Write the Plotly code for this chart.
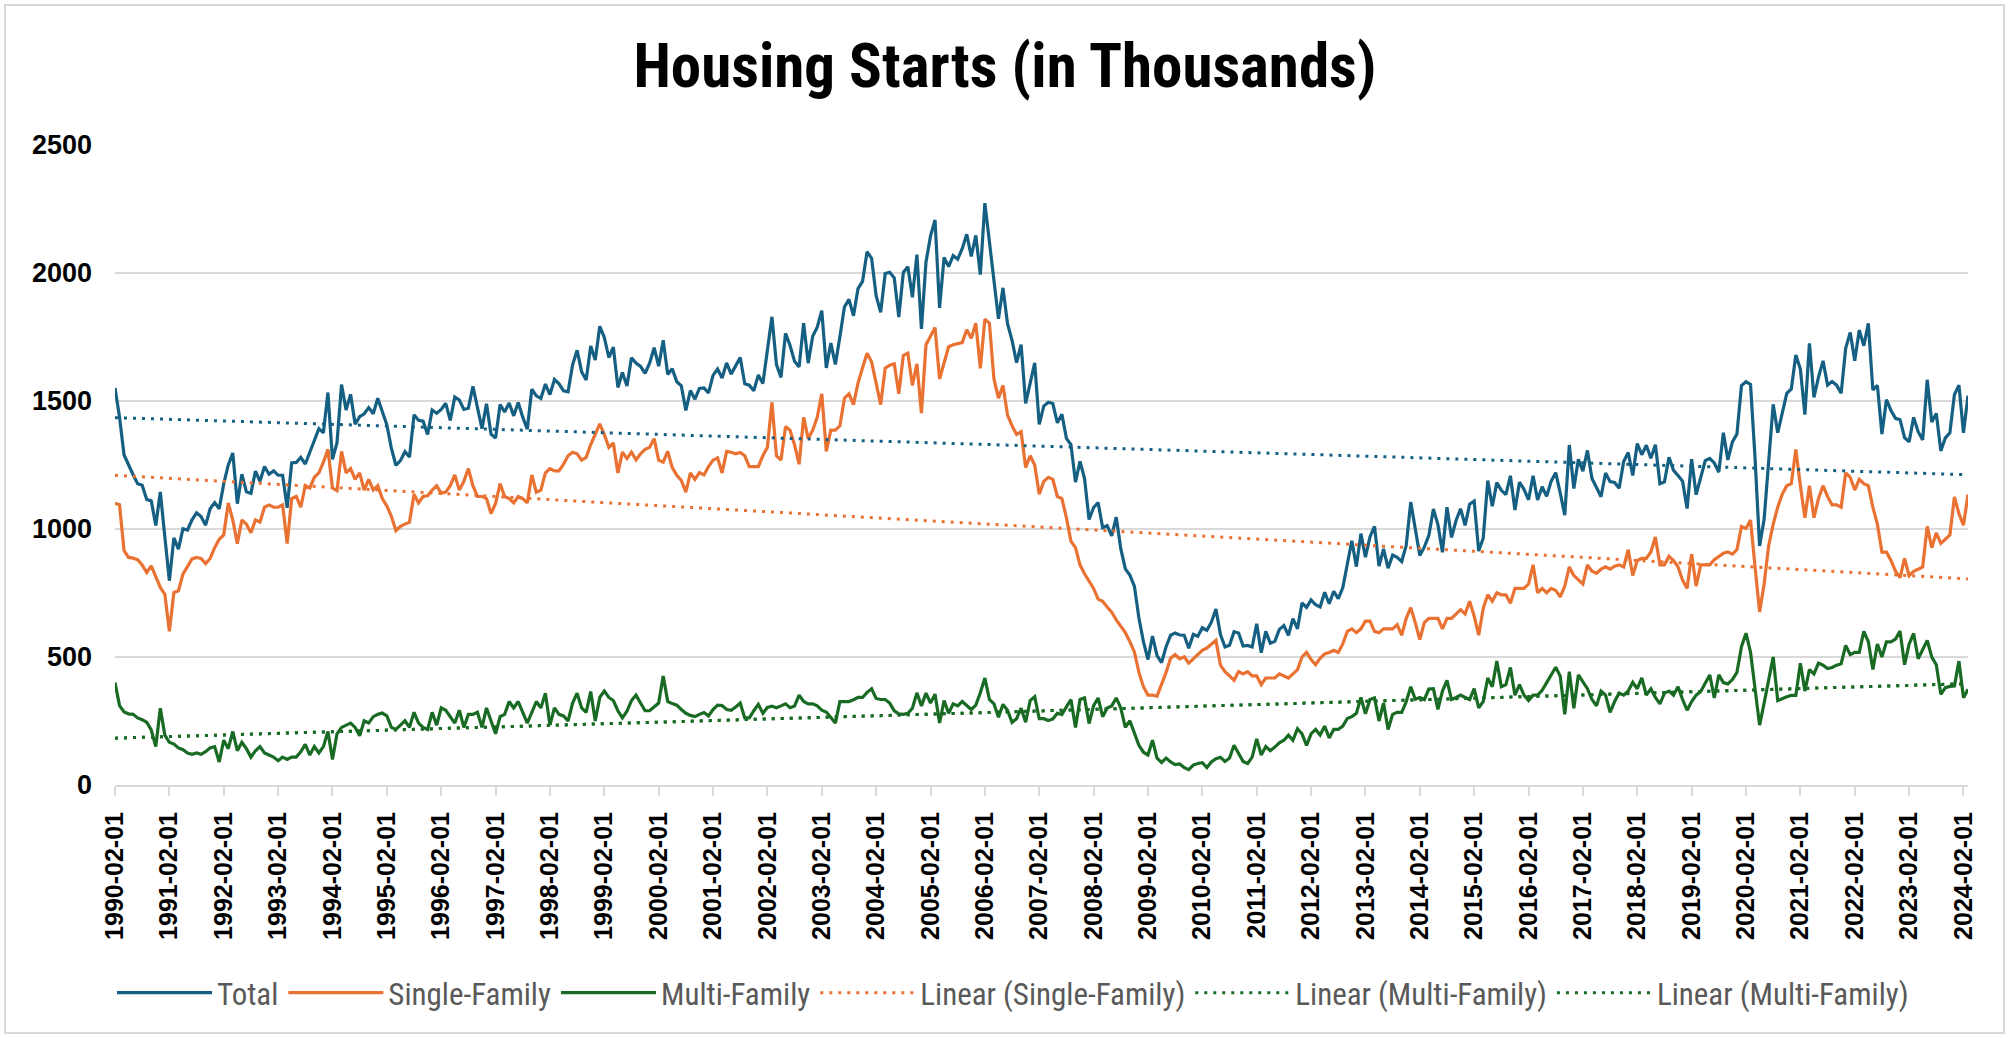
import plotly.graph_objects as go

# Monthly housing starts (thousands, SAAR), first point at the 1990-02-01 tick
total = [
    1551, 1437, 1289, 1248, 1212, 1177, 1171, 1115, 1110, 1014, 1145, 969,
    798, 965, 921, 1001, 996, 1036, 1063, 1049, 1015, 1079, 1103, 1079,
    1176, 1250, 1297, 1099, 1214, 1145, 1139, 1226, 1186, 1244, 1214, 1227,
    1210, 1210, 1083, 1258, 1260, 1280, 1254, 1300, 1343, 1392, 1376, 1533,
    1272, 1337, 1564, 1465, 1526, 1409, 1439, 1450, 1474, 1450, 1511, 1455,
    1407, 1316, 1249, 1267, 1302, 1281, 1446, 1425, 1421, 1369, 1465, 1452,
    1467, 1491, 1424, 1516, 1504, 1467, 1472, 1557, 1475, 1392, 1489, 1370,
    1355, 1486, 1457, 1492, 1442, 1494, 1437, 1390, 1546, 1520, 1510, 1566,
    1525, 1584, 1567, 1540, 1536, 1641, 1698, 1614, 1582, 1715, 1660, 1792,
    1748, 1670, 1710, 1553, 1611, 1559, 1669, 1648, 1635, 1608, 1648, 1708,
    1636, 1737, 1604, 1626, 1575, 1559, 1463, 1541, 1507, 1549, 1551, 1532,
    1600, 1625, 1590, 1649, 1605, 1636, 1670, 1567, 1562, 1540, 1602, 1568,
    1698, 1829, 1642, 1592, 1764, 1717, 1655, 1633, 1804, 1648, 1753, 1788,
    1853, 1629, 1726, 1643, 1751, 1867, 1897, 1833, 1939, 1967, 2083, 2057,
    1911, 1846, 1998, 2003, 1981, 1828, 2002, 2024, 1905, 2072, 1782, 2042,
    2144, 2207, 1864, 2061, 2025, 2068, 2054, 2095, 2151, 2065, 2147, 1994,
    2273, 2119, 1969, 1821, 1942, 1802, 1737, 1650, 1720, 1491, 1570, 1649,
    1409, 1480, 1495, 1490, 1415, 1448, 1354, 1330, 1183, 1264, 1197, 1037,
    1084, 1103, 1005, 1013, 973, 1046, 923, 844, 820, 777, 652, 560,
    490, 582, 505, 478, 540, 585, 594, 586, 585, 534, 588, 581,
    614, 604, 636, 687, 588, 539, 546, 599, 594, 543, 545, 539,
    630, 517, 600, 554, 561, 608, 623, 585, 650, 610, 711, 694,
    723, 704, 695, 753, 708, 757, 728, 770, 863, 954, 853, 982,
    890, 969, 1010, 855, 922, 847, 898, 889, 873, 936, 1105, 1003,
    897, 929, 975, 1078, 1017, 909, 1085, 967, 1033, 1079, 1014, 1097,
    1109, 914, 964, 1189, 1089, 1181, 1151, 1134, 1208, 1074, 1183, 1155,
    1114, 1208, 1113, 1165, 1128, 1187, 1220, 1140, 1054, 1328, 1158, 1272,
    1226, 1307, 1197, 1162, 1126, 1219, 1185, 1182, 1159, 1264, 1299, 1209,
    1334, 1290, 1327, 1276, 1329, 1177, 1184, 1280, 1229, 1209, 1187, 1080,
    1273, 1134, 1203, 1267, 1276, 1258, 1222, 1376, 1270, 1340, 1371, 1560,
    1575, 1565, 1276, 934, 1038, 1265, 1487, 1376, 1459, 1530, 1547, 1680,
    1625, 1447, 1725, 1514, 1593, 1657, 1562, 1576, 1562, 1530, 1706, 1768,
    1657, 1777, 1716, 1803, 1543, 1561, 1371, 1505, 1463, 1432, 1427, 1357,
    1340, 1436, 1380, 1348, 1583, 1418, 1451, 1305, 1356, 1376, 1525, 1562,
    1376, 1521,
]

single_family = [
    1100, 1095, 915, 889, 886, 880, 860, 830, 856, 811, 772, 745,
    600, 752, 759, 824, 856, 883, 889, 885, 865, 885, 927, 960,
    977, 1102, 1035, 943, 1035, 1019, 985, 1035, 1027, 1085, 1094, 1085,
    1085, 1094, 943, 1119, 1127, 1085, 1169, 1160, 1202, 1219, 1261, 1311,
    1160, 1150, 1303, 1219, 1236, 1194, 1219, 1152, 1194, 1152, 1169, 1119,
    1090, 1050, 994, 1010, 1019, 1027, 1136, 1102, 1127, 1130, 1152, 1169,
    1140, 1144, 1169, 1211, 1152, 1186, 1236, 1169, 1127, 1127, 1119, 1060,
    1100, 1177, 1127, 1119, 1102, 1127, 1119, 1102, 1211, 1144, 1152, 1219,
    1236, 1227, 1227, 1253, 1286, 1300, 1294, 1269, 1280, 1330, 1370, 1411,
    1369, 1319, 1336, 1219, 1300, 1275, 1300, 1270, 1294, 1311, 1319, 1353,
    1269, 1261, 1303, 1240, 1210, 1190, 1144, 1219, 1194, 1220, 1211, 1244,
    1269, 1278, 1219, 1303, 1300, 1294, 1299, 1286, 1244, 1244, 1244, 1286,
    1319, 1495, 1286, 1269, 1400, 1386, 1328, 1253, 1436, 1353, 1386, 1436,
    1528, 1303, 1386, 1386, 1403, 1511, 1528, 1486, 1570, 1630, 1687, 1653,
    1570, 1486, 1628, 1640, 1645, 1528, 1678, 1687, 1561, 1645, 1453, 1720,
    1753, 1787, 1586, 1645, 1712, 1720, 1725, 1728, 1778, 1745, 1804, 1628,
    1820, 1804, 1586, 1511, 1561, 1445, 1403, 1369, 1380, 1240, 1286, 1250,
    1136, 1186, 1202, 1194, 1127, 1119, 1044, 952, 927, 860, 825, 795,
    768, 726, 718, 695, 675, 645, 620, 595, 560, 520, 440, 384,
    351, 351, 347, 392, 440, 495, 509, 493, 501, 476, 493, 509,
    526, 535, 550, 565, 468, 443, 426, 409, 443, 434, 443, 426,
    426, 392, 418, 418, 418, 434, 426, 418, 434, 450, 500, 518,
    490, 470, 495, 512, 518, 526, 518, 551, 600, 610, 595, 610,
    640, 640, 600, 595, 610, 610, 610, 626, 585, 651, 693, 634,
    568, 634, 651, 651, 651, 610, 651, 651, 668, 685, 668, 718,
    660, 585, 690, 743, 718, 751, 743, 743, 710, 768, 768, 768,
    785, 860, 751, 768, 751, 768, 760, 735, 777, 852, 818, 802,
    785, 860, 835, 827, 843, 852, 843, 855, 860, 852, 919, 818,
    877, 885, 885, 910, 969, 860, 860, 893, 877, 852, 800, 768,
    902, 777, 860, 860, 860, 880, 893, 905, 910, 902, 919, 1010,
    1002, 1035, 852, 676, 785, 935, 1019, 1085, 1136, 1169, 1177, 1311,
    1169, 1044, 1169, 1044, 1119, 1169, 1127, 1094, 1094, 1085, 1219, 1202,
    1152, 1194, 1177, 1169, 1085, 1019, 910, 910, 877, 835, 810, 885,
    818, 835, 843, 852, 1010, 927, 985, 944, 960, 977, 1125, 1060,
    1015, 1135,
]

multi_family = [
    400, 310, 285, 278, 276, 262, 255, 245, 215, 150, 300, 195,
    167, 160, 145, 138, 125, 120, 125, 120, 130, 145, 150, 90,
    175, 142, 209, 134, 167, 142, 109, 134, 150, 125, 117, 109,
    95, 109, 100, 109, 109, 130, 159, 117, 150, 125, 150, 209,
    100, 200, 225, 234, 242, 225, 192, 251, 242, 267, 276, 281,
    270, 225, 217, 234, 251, 225, 284, 242, 225, 217, 284, 234,
    301, 292, 267, 242, 292, 225, 276, 276, 284, 225, 301, 251,
    200, 267, 276, 326, 301, 326, 284, 242, 284, 326, 301, 359,
    234, 301, 276, 270, 250, 320, 359, 301, 284, 365, 250, 342,
    367, 342, 330, 290, 262, 288, 330, 351, 320, 290, 290, 305,
    320, 426, 326, 318, 312, 295, 280, 272, 267, 276, 283, 270,
    295, 312, 310, 295, 292, 305, 320, 262, 262, 290, 315, 280,
    303, 308, 302, 309, 317, 302, 309, 351, 326, 317, 317, 309,
    292, 285, 262, 242, 326, 326, 326, 333, 342, 342, 362, 376,
    338, 334, 334, 320, 290, 278, 276, 280, 300, 360, 309, 359,
    320, 355, 242, 330, 280, 317, 309, 326, 310, 295, 312, 360,
    418, 334, 317, 265, 315, 292, 245, 259, 300, 245, 330, 345,
    259, 259, 252, 258, 280, 276, 305, 334, 225, 334, 340, 240,
    310, 340, 267, 301, 309, 340, 301, 225, 251, 200, 155, 128,
    117, 175, 105, 88, 105, 90, 80, 82, 68, 60, 78, 84,
    87, 68, 90, 103, 108, 92, 105, 155, 125, 92, 84, 109,
    180, 117, 150, 134, 148, 165, 175, 195, 175, 220, 200, 155,
    200, 217, 195, 230, 184, 217, 217, 230, 260, 267, 280, 342,
    278, 334, 340, 250, 320, 217, 276, 284, 284, 325, 384, 335,
    342, 334, 375, 376, 295, 367, 409, 334, 342, 351, 342, 334,
    376, 301, 326, 418, 384, 484, 384, 392, 459, 351, 392, 351,
    330, 351, 351, 370, 400, 430, 460, 425, 276, 443, 300, 430,
    401, 376, 334, 309, 367, 351, 284, 326, 359, 351, 367, 401,
    376, 418, 351, 376, 342, 317, 359, 367, 351, 384, 334, 292,
    326, 351, 365, 400, 430, 340, 430, 400, 395, 412, 440, 540,
    593, 518, 370, 234, 320, 410, 500, 330, 338, 345, 350, 350,
    476, 367, 451, 434, 476, 468, 455, 459, 468, 474, 545, 509,
    518, 518, 600, 560, 451, 551, 500, 559, 559, 570, 601, 470,
    550, 592, 493, 530, 565, 500, 470, 354, 380, 385, 387, 484,
    341, 374,
]

# Linear trendline values at the first and last point
trend_total = [1435, 1212]
trend_single = [1210, 805]
trend_multi = [183, 396]

tick_labels = [
    "1990-02-01", "1991-02-01", "1992-02-01", "1993-02-01", "1994-02-01",
    "1995-02-01", "1996-02-01", "1997-02-01", "1998-02-01", "1999-02-01",
    "2000-02-01", "2001-02-01", "2002-02-01", "2003-02-01", "2004-02-01",
    "2005-02-01", "2006-02-01", "2007-02-01", "2008-02-01", "2009-02-01",
    "2010-02-01", "2011-02-01", "2012-02-01", "2013-02-01", "2014-02-01",
    "2015-02-01", "2016-02-01", "2017-02-01", "2018-02-01", "2019-02-01",
    "2020-02-01", "2021-02-01", "2022-02-01", "2023-02-01", "2024-02-01",
]
y_ticks = [0, 500, 1000, 1500, 2000, 2500]

BLUE, ORANGE, GREEN = "#156082", "#E97132", "#196B24"
GRID = "#d9d9d9"
NARROW = "Liberation Sans Narrow, Arial Narrow, Roboto Condensed, Liberation Sans, sans-serif"
BOLD = "Liberation Sans, Arial, sans-serif"
DOT = "3px,6px"

n = len(total)
x = list(range(n))
x_ends = [x[0], x[-1]]
tick_pos = [i * 12 for i in range(len(tick_labels))]

W, H = 2010, 1038
L, R, T, B = 115, 42, 145, 253
pw, ph = W - L - R, H - T - B

fig = go.Figure()
fig.add_trace(go.Scatter(x=x, y=total, name="Total", mode="lines",
                         line=dict(color=BLUE, width=3.2)))
fig.add_trace(go.Scatter(x=x, y=single_family, name="Single-Family", mode="lines",
                         line=dict(color=ORANGE, width=3.2)))
fig.add_trace(go.Scatter(x=x, y=multi_family, name="Multi-Family", mode="lines",
                         line=dict(color=GREEN, width=3.2)))
fig.add_trace(go.Scatter(x=x_ends, y=trend_single, name="Linear (Single-Family)", mode="lines",
                         line=dict(color=ORANGE, width=3, dash=DOT)))
fig.add_trace(go.Scatter(x=x_ends, y=trend_multi, name="Linear (Multi-Family)", mode="lines",
                         line=dict(color=GREEN, width=3, dash=DOT)))
fig.add_trace(go.Scatter(x=x_ends, y=trend_multi, name="Linear (Multi-Family)", mode="lines",
                         line=dict(color=GREEN, width=3, dash=DOT)))
fig.add_trace(go.Scatter(x=x_ends, y=trend_total, name="Linear (Total)", mode="lines",
                         showlegend=False, line=dict(color=BLUE, width=3, dash=DOT)))


def px_to_paper_x(px):
    return (px - L) / pw


def px_to_paper_y(py):
    return (H - B - py) / ph


fig.update_layout(
    width=W, height=H,
    margin=dict(l=L, r=R, t=T, b=B),
    paper_bgcolor="white", plot_bgcolor="white",
    title=dict(text="<b>Housing Starts (in Thousands)</b>",
               font=dict(family=NARROW, size=61, color="black"),
               x=0.5, xanchor="center", xref="container",
               y=1 - 66 / H, yanchor="middle", yref="container"),
    xaxis=dict(range=[0, n - 1], tickmode="array", tickvals=tick_pos, ticktext=tick_labels,
               tickangle=-90, tickfont=dict(family=BOLD, size=25, color="black", weight="bold"),
               showgrid=False, zeroline=False, showline=True, linecolor=GRID, linewidth=2,
               ticks="outside", ticklen=9, tickwidth=2, tickcolor=GRID, ticklabelstandoff=6),
    yaxis=dict(range=[0, 2500], tickmode="array", tickvals=y_ticks,
               tickfont=dict(family=BOLD, size=27, color="black", weight="bold"),
               showgrid=True, gridcolor=GRID, gridwidth=2, zeroline=False, showline=False,
               ticks="", ticklabelstandoff=22),
    legend=dict(orientation="h", x=px_to_paper_x(1013), xanchor="center",
                y=px_to_paper_y(993), yanchor="middle",
                font=dict(family=NARROW, size=31, color="#595959"),
                itemwidth=95, bgcolor="rgba(0,0,0,0)"),
    showlegend=True,
)

fig.add_shape(type="rect", xref="paper", yref="paper",
              x0=px_to_paper_x(5), x1=px_to_paper_x(2004),
              y0=px_to_paper_y(1033), y1=px_to_paper_y(5),
              line=dict(color=GRID, width=2), fillcolor="rgba(0,0,0,0)", layer="below")

fig.write_html("out.html", config={"displayModeBar": False},
               post_script="document.body.style.margin='0';")
